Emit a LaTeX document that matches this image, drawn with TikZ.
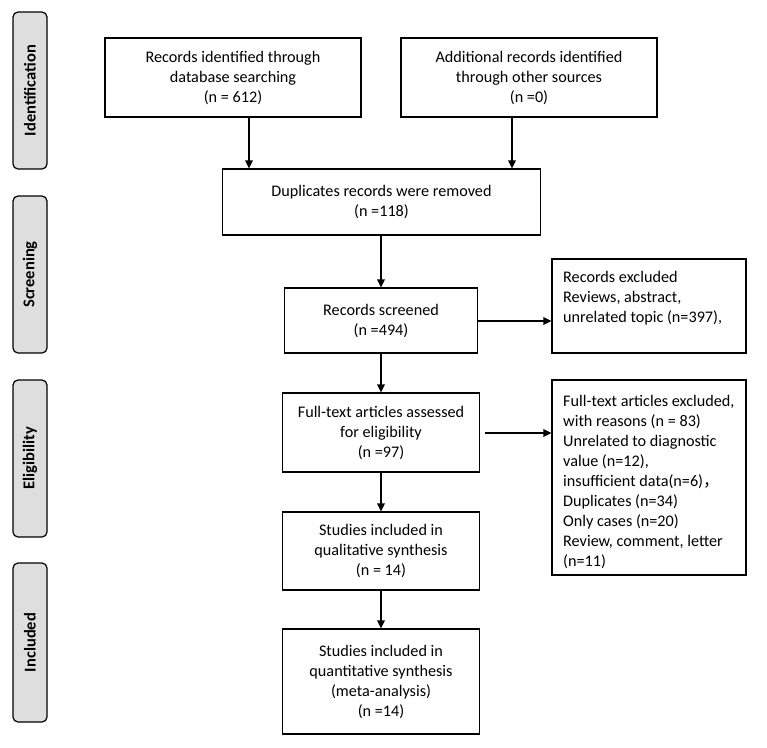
\documentclass[tikz,border=0pt]{standalone}
\usepackage{fontspec}
\setmainfont{Carlito}
\newfontfamily\cjk{Noto Sans CJK SC}
\usetikzlibrary{arrows.meta,positioning,calc}
\definecolor{phasegray}{HTML}{DEDEDE}
\begin{document}
\begin{tikzpicture}[x=1pt,y=-1pt,
  every node/.style={font=\fontsize{16.2}{20}\selectfont},
  box/.style={draw, line width=1.2pt, inner sep=0pt, align=center},
  txt/.style={inner sep=0pt, align=left, anchor=north west},
  phase/.style={draw, line width=1.2pt, fill=phasegray, rounded corners=5pt, rotate=90,
     minimum height=34, inner sep=0pt, font=\fontsize{16.5}{20}\selectfont\bfseries},
  arr/.style={line width=1.3pt, -{Triangle[length=8pt,width=7.5pt]}}]
\fill[white] (0,0) rectangle (767,747);
\useasboundingbox (0,0) rectangle (767,747);
% phase labels
\node[phase, minimum width=157] (pid) at (30,90.5) {Identification};
\node[phase, minimum width=157] (pscr) at (30,274.5) {Screening};
\node[phase, minimum width=157] (pel) at (30,458.5) {Eligibility};
\node[phase, minimum width=159] (pinc) at (30,642.5) {Included};
% boxes
\node[box, minimum width=256, minimum height=79] (b1) at (233,77.5)
  {Records identified through\\database searching\\(n = 612)};
\node[box, minimum width=256, minimum height=79] (b2) at (529,77.5)
  {Additional records identified\\through other sources\\(n =0)};
\node[box, minimum width=318, minimum height=66] (dup) at (381.5,202)
  {Duplicates records were removed\\(n =118)};
\node[box, minimum width=193, minimum height=65] (scr) at (381,320.5)
  {Records screened\\(n =494)};
\node[box, minimum width=194, minimum height=94] (ex1) at (649,306) {};
\node[txt] (ex1t) at (563,271)
  {Records excluded\\Reviews, abstract,\\unrelated topic (n=397),};
\node[box, minimum width=197, minimum height=79] (full) at (381,432.5)
  {Full-text articles assessed\\for eligibility\\(n =97)};
\node[box, minimum width=194, minimum height=195] (ex2) at (649,477.5) {};
\node[txt] (ex2t) at (563,395)
  {Full-text articles excluded,\\with reasons (n = 83)\\Unrelated to diagnostic\\value (n=12),\\insufficient data(n=6){\cjk ，}\\Duplicates (n=34)\\Only cases (n=20)\\Review, comment, letter\\(n=11)};
\node[box, minimum width=197, minimum height=78] (qual) at (381,551)
  {Studies included in\\qualitative synthesis\\(n = 14)};
\node[box, minimum width=197, minimum height=105] (quant) at (381,681.5)
  {Studies included in\\quantitative synthesis\\(meta-analysis)\\(n =14)};
% arrows
\draw[arr] ([xshift=16]b1.south) -- ([xshift=16]b1.south |- dup.north);
\draw[arr] ([xshift=-17]b2.south) -- ([xshift=-17]b2.south |- dup.north);
\draw[arr] ([xshift=-0.5]dup.south) -- ([xshift=-0.5]dup.south |- scr.north);
\draw[arr] (scr.south) -- (scr.south |- full.north);
\draw[arr] (full.south) -- (full.south |- qual.north);
\draw[arr] (qual.south) -- (quant.north);
\draw[arr] ([yshift=-0.5]scr.east) -- ([yshift=-0.5]scr.east -| ex1.west);
\draw[arr] ([xshift=5,yshift=-0.5]full.east) -- ([yshift=-0.5]full.east -| ex2.west);
\end{tikzpicture}
\end{document}
